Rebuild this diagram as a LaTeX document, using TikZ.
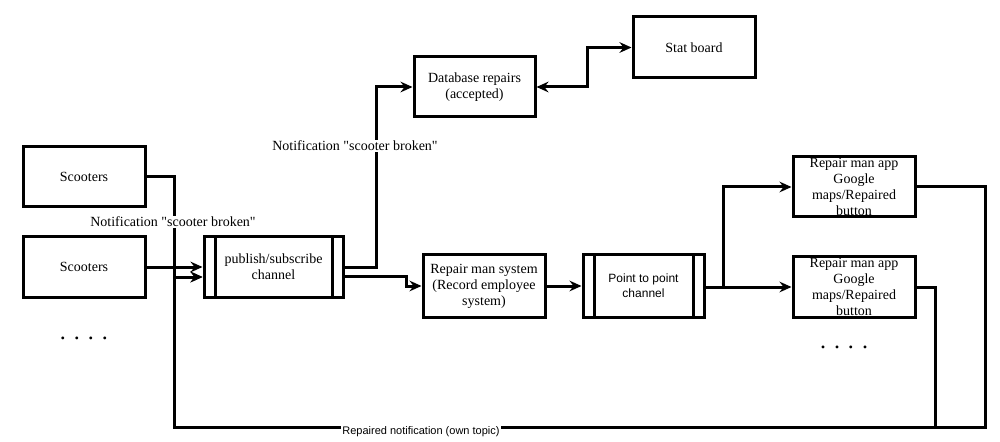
\documentclass[tikz,border=0pt]{standalone}
\usepackage{fontspec}
\setmainfont{Liberation Serif}[Ligatures=TeXOff]
\setsansfont{Liberation Sans}
\usetikzlibrary{arrows.meta,calc}
\def\px{0.75pt}
\tikzset{
  x=0.75pt, y=-0.75pt,
  box/.style={draw, line width=2.25pt, rectangle, inner sep=1pt, align=center,
    font=\fontsize{10.5pt}{12pt}\selectfont},
  arr/.style={line width=2.25pt, -{Stealth[length=9pt,width=8pt,inset=3pt]}},
  link/.style={line width=2.25pt},
  lbl/.style={fill=white, inner sep=1pt, font=\fontsize{10.5pt}{12pt}\selectfont},
  dots/.style={font=\fontsize{18pt}{20pt}\selectfont},
}
\begin{document}
\begin{tikzpicture}
\useasboundingbox (0,0) rectangle (1000,442);
% nodes
\node[box, minimum width=122*\px, minimum height=60*\px] (s1) at (84,177) {Scooters};
\node[box, minimum width=122*\px, minimum height=60*\px] (s2) at (84,267) {Scooters};
\node[box, minimum width=139*\px, minimum height=60*\px] (ps) at (273.5,267) {publish/subscribe\\channel};
\node[box, minimum width=121*\px, minimum height=60*\px] (db) at (474.5,87) {Database repairs\\(accepted)};
\node[box, minimum width=122*\px, minimum height=61*\px] (stat) at (694,47.5) {Stat board};
\node[box, minimum width=122*\px, minimum height=62*\px] (rms) at (484,286) {Repair man system\\(Record employee\\system)};
\node[box, minimum width=121*\px, minimum height=62*\px, font=\sffamily\fontsize{9pt}{11pt}\selectfont] (p2p) at (643.5,286) {Point to point\\channel};
\node[box, minimum width=122*\px, minimum height=60*\px, inner sep=0pt] (a1) at (854,187) {Repair man app\\Google\\maps/Repaired\\button};
\node[box, minimum width=122*\px, minimum height=60*\px, inner sep=0pt] (a2) at (854,287) {Repair man app\\Google\\maps/Repaired\\button};
% inner bars of channels
\foreach \n in {ps,p2p}{
  \draw[line width=2.25pt] ([xshift=13*\px]\n.north west) -- ([xshift=13*\px]\n.south west);
  \draw[line width=2.25pt] ([xshift=-12*\px]\n.north east) -- ([xshift=-12*\px]\n.south east);
}
\node[dots] (d1) at (84,338) {. . . .};
\node[dots] (d2) at (844,347) {. . . .};
% coordinates
\coordinate (psin) at ($(ps.west)+(0,-10*\px)$);
\coordinate (c1) at (174,177);
\coordinate (c2) at (174,277);
\coordinate (c3) at (174,427);
\coordinate (r1) at (985,427);
\coordinate (r2) at (935,427);
\coordinate (br) at (723,287);
% connectors
\draw[arr] (s2.east) -- (ps.west);
\draw[arr] (s1.east) -- (c1) -- (c2) -- (psin);
\draw[arr] (a1.east) -| (r1) -- (c3) -- (c2) -- (psin);
\draw[link] (a2.east) -| (r2);
\draw[arr] (ps.east) -- ++(32,0) |- (db.west);
\draw[arr] ([yshift=-9*\px]ps.east) -- ++(62,0) |- (rms.west);
\draw[line width=2.25pt, {Stealth[length=9pt,width=8pt,inset=3pt]}-{Stealth[length=9pt,width=8pt,inset=3pt]}] (db.east) -- ++(51,0) |- (stat.west);
\draw[arr] (rms.east) -- (p2p.west);
\draw[arr] (p2p.east |- br) -- (a2.west);
\draw[arr] (br) |- (a1.west);
% labels
\node[lbl] (l1) at (173,222) {Notification "scooter broken"};
\node[lbl] (l2) at (355,146) {Notification "scooter broken"};
\node[fill=white, inner sep=1pt, font=\sffamily\fontsize{8.25pt}{10pt}\selectfont] (l3) at (421,432) {Repaired notification (own topic)};
\end{tikzpicture}
\end{document}
